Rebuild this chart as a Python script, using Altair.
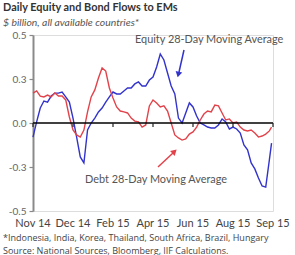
import altair as alt
import pandas as pd

# Values (every ~5 days, $ billion)
equity = [-0.080, 0.006, 0.085, 0.125, 0.119, 0.153, 0.170, 0.170, 0.176, 0.148,
          0.119, 0.028, -0.080, -0.193, -0.227, -0.040, 0.000, 0.028, 0.063, 0.085,
          0.119, 0.148, 0.176, 0.165, 0.165, 0.182, 0.199, 0.199, 0.222, 0.233,
          0.210, 0.210, 0.244, 0.261, 0.318, 0.392, 0.358, 0.284, 0.210, 0.165,
          0.028, 0.000, 0.057, 0.114, 0.091, 0.040, 0.000, -0.011, -0.023, -0.028,
          -0.028, -0.011, 0.023, 0.006, -0.034, -0.023, -0.034, -0.057, -0.125, -0.153,
          -0.227, -0.261, -0.313, -0.358, -0.364, -0.210, -0.114]
debt = [0.170, 0.182, 0.153, 0.148, 0.159, 0.148, 0.170, 0.153, 0.153, 0.131,
        0.034, -0.040, -0.068, -0.080, -0.040, 0.063, 0.148, 0.188, 0.256, 0.313,
        0.295, 0.199, 0.142, 0.091, 0.068, 0.063, 0.057, 0.028, 0.011, 0.006,
        -0.023, -0.011, 0.097, 0.131, 0.114, 0.091, 0.097, 0.068, 0.000, -0.068,
        -0.085, -0.097, -0.091, -0.063, -0.051, -0.023, 0.017, 0.051, 0.068, 0.063,
        0.102, 0.097, 0.057, 0.017, 0.023, 0.000, 0.006, -0.023, -0.040, -0.045,
        -0.040, -0.057, -0.080, -0.074, -0.063, -0.045, -0.023]
dates = [d.strftime("%Y-%m-%d") for d in pd.date_range("2014-11-01", periods=66, freq="5D")] + ["2015-09-25"]
tick_dates = ["2014-11-01", "2014-12-26", "2015-02-19", "2015-04-15",
              "2015-06-09", "2015-08-03", "2015-09-27"]
tick_labels = ["Nov 14", "Dec 14", "Feb 15", "Apr 15", "Jun 15", "Aug 15", "Sep 15"]
y_ticks = [-0.5, -0.25, 0, 0.25, 0.5]

BLUE = "#3232cc"
RED = "#e2434a"
FONT = "Lato"
FONT2 = "Open Sans"

n = len(dates)
df = pd.DataFrame({
    "date": dates * 2,
    "value": equity + debt,
    "series": ["Equity"] * n + ["Debt"] * n,
})
ticks_df = pd.DataFrame({"date": tick_dates, "label": tick_labels})

def dt(s):
    y, m, d = map(int, s.split("-"))
    return alt.DateTime(year=y, month=m, date=d, utc=True)

xscale = alt.Scale(type="utc", domain=[dt("2014-11-01"), dt("2015-09-27")])
yscale = alt.Scale(domain=[-0.5, 0.5], nice=False)

lines = alt.Chart(df).mark_line(strokeWidth=1.4).encode(
    x=alt.X("date:T", scale=xscale, title=None, axis=None),
    y=alt.Y("value:Q", scale=yscale, title=None,
            axis=alt.Axis(values=y_ticks,
                          labelExpr="datum.value == 0 ? '0.0' : (datum.value < 0 ? '-' : '') + format(abs(datum.value), '.1f')",
                          labelOverlap=False,
                          domainColor="#8a8a8a", domainWidth=2, tickColor="#8a8a8a", tickSize=4,
                          tickWidth=1.2, labelPadding=3, labelFont=FONT, labelFontSize=10,
                          labelColor="#666", grid=False)),
    color=alt.Color("series:N", scale=alt.Scale(domain=["Equity", "Debt"], range=[BLUE, RED]), legend=None),
)

one = pd.DataFrame({"k": [0]})
zero = alt.Chart(one).mark_rule(color="black", strokeWidth=1.5).encode(
    y=alt.datum(0), x=alt.value(0), x2=alt.value(240))
ticks = alt.Chart(ticks_df).mark_rule(color="#222", strokeWidth=1.2).encode(
    x=alt.X("date:T", axis=None), y=alt.value(88), y2=alt.value(92))
xlabels = alt.Chart(ticks_df).mark_text(font=FONT, fontSize=11, color="#444",
                                        baseline="middle", align="center").encode(
    x=alt.X("date:T", axis=None), y=alt.value(189), text="label:N")

def text(s, x, y, size, color="#555", weight="normal", style="normal", font=FONT):
    return alt.Chart(one).mark_text(text=s, align="left", baseline="middle", font=font,
                                    fontSize=size, color=color, fontWeight=weight,
                                    fontStyle=style).encode(x=alt.value(x), y=alt.value(y))

title = text("Daily Equity and Bond Flows to EMs", -30, -27, 10.9, "#333", "bold")
subtitle = text("$ billion, all available countries*", -30, -12, 10.4, "#555", style="italic")
eq_lab = text("Equity 28-Day Moving Average", 102, 5, 10.9, "#555")
debt_lab = text("Debt 28-Day Moving Average", 52, 145, 10.9, "#555")
foot1 = text("*Indonesia, India, Korea, Thailand, South Africa, Brazil, Hungary", -30, 203, 9, "#444", font=FONT2)
foot2 = text("Source: National Sources, Bloomberg, IIF Calculations.", -30, 215.5, 9, "#444", font=FONT2)

eq_arrow = alt.Chart(one).mark_rule(color=BLUE, strokeWidth=1.5).encode(
    x=alt.value(151), y=alt.value(15), x2=alt.value(146), y2=alt.value(37))
eq_head = alt.Chart(one).mark_point(shape="triangle-up", filled=True, size=45, angle=192.5,
                                     color=BLUE, opacity=1).encode(x=alt.value(145.3), y=alt.value(39.5))
debt_arrow = alt.Chart(one).mark_rule(color=RED, strokeWidth=1.5).encode(
    x=alt.value(125), y=alt.value(132), x2=alt.value(140), y2=alt.value(118))
debt_head = alt.Chart(one).mark_point(shape="triangle-up", filled=True, size=45, angle=46.7,
                                       color=RED, opacity=1).encode(x=alt.value(141.5), y=alt.value(116.5))

chart = alt.layer(
    lines, zero, ticks, xlabels, eq_arrow, eq_head, debt_arrow, debt_head,
    title, subtitle, eq_lab, debt_lab, foot1, foot2
).properties(
    width=240, height=176,
    autosize=alt.AutoSizeParams(type="none"),
    padding={"left": 33, "top": 35, "right": 22, "bottom": 44},
).configure_view(stroke=None).configure(background="white")

chart.save("out.html", embed_options={"renderer": "svg", "actions": False})
